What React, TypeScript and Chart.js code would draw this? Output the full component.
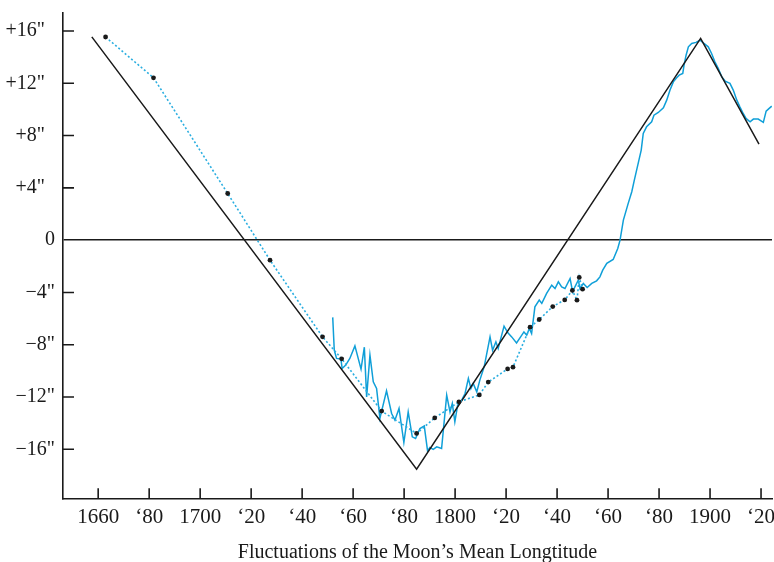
import React, { useEffect, useRef } from 'react';
import { Chart, registerables } from 'chart.js';

Chart.register(...registerables);

// Axis ticks
const xTickValues = [1660, 1680, 1700, 1720, 1740, 1760, 1780, 1800, 1820, 1840, 1860, 1880, 1900, 1920];
const xTickLabels = ['1660', '\u201880', '1700', '\u201820', '\u201840', '\u201860', '\u201880', '1800', '\u201820', '\u201840', '\u201860', '\u201880', '1900', '\u201820'];
const yTickValues = [16, 12, 8, 4, 0, -4, -8, -12, -16];
const yTickLabels = ['+16"\u2002', '+12"\u2002', '+8"\u2002', '+4"\u2002', '0', '\u22124"', '\u22128"', '\u221212"', '\u221216"'];

// Straight-line (V) trend
const trendYears = [1657.5, 1784.9, 1896.3, 1919.2];
const trendValues = [15.55, -17.52, 15.43, 7.35];

// Dotted series with black dots
const dotYears = [1662.9, 1681.7, 1710.8, 1727.4, 1748.0, 1755.5, 1771.2, 1784.9, 1792.0, 1801.5, 1809.5, 1813.0, 1820.6, 1822.7, 1829.4, 1833.0, 1838.3, 1843.0, 1846.0, 1847.8, 1848.7, 1850.0];
const dotValues = [15.54, 12.42, 3.57, -1.53, -7.40, -9.08, -13.08, -14.79, -13.6, -12.37, -11.84, -10.86, -9.85, -9.72, -6.66, -6.07, -5.08, -4.57, -3.85, -4.59, -2.85, -3.75];

// Solid blue series
const lineYears = [
  1752.0, 1752.6, 1753.5, 1755.2, 1755.7, 1757.1, 1758.7, 1760.7, 1763.1, 1764.4,
  1765.3, 1766.6, 1767.9, 1769.2, 1770.5, 1773.1, 1775.1, 1776.4, 1778.0, 1779.9,
  1781.6, 1783.2, 1784.5, 1786.2, 1787.9, 1789.2, 1790.1, 1791.4, 1792.8, 1794.7,
  1796.7, 1798.0, 1798.9, 1799.9, 1801.0, 1802.6, 1803.9, 1805.2, 1806.2, 1807.1,
  1808.5, 1809.7, 1811.4, 1813.7, 1814.7, 1816.0, 1816.9, 1819.2, 1820.7, 1822.2,
  1824.1, 1825.7, 1827.0, 1828.1, 1829.1, 1830.0, 1831.3, 1833.0, 1834.0, 1835.9,
  1837.9, 1839.2, 1840.5, 1841.8, 1843.1, 1845.1, 1846.1, 1847.0, 1848.3, 1849.0,
  1850.3, 1851.8, 1853.6, 1855.5, 1856.8, 1857.9, 1859.5, 1862.0, 1863.8, 1864.7,
  1866.0, 1867.9, 1869.3, 1870.3, 1871.2, 1872.1, 1873.0, 1873.8, 1875.1, 1877.1,
  1878.0, 1879.7, 1881.7, 1883.0, 1884.3, 1885.6, 1886.9, 1887.9, 1889.3, 1889.8,
  1890.6, 1891.5, 1892.8, 1894.5, 1896.1, 1897.6, 1899.3, 1900.6, 1901.9, 1903.2,
  1904.6, 1905.9, 1907.8, 1909.1, 1910.5, 1911.7, 1913.0, 1914.1, 1915.7, 1917.0,
  1918.9, 1920.9, 1922.0, 1923.2, 1924.2,
];
const lineValues = [
  -5.91, -8.42, -9.05, -9.10, -9.82, -9.56, -9.05, -8.09, -9.87, -8.19,
  -11.99, -8.80, -10.84, -11.35, -13.64, -11.53, -13.26, -13.77, -12.88, -15.48,
  -13.14, -15.05, -15.17, -14.41, -14.21, -16.12, -15.86, -16.01, -15.81, -15.94,
  -11.86, -13.14, -12.49, -13.90, -12.62, -12.24, -11.73, -10.58, -11.35, -10.96,
  -11.61, -10.71, -9.69, -7.40, -8.42, -7.78, -8.29, -6.58, -7.09, -7.40,
  -7.86, -7.40, -7.02, -7.27, -6.76, -7.14, -5.10, -4.59, -4.84, -4.08,
  -3.44, -3.70, -3.19, -3.57, -3.70, -2.93, -3.96, -3.57, -3.06, -3.70,
  -3.31, -3.62, -3.31, -3.11, -2.81, -2.30, -1.78, -1.48, -0.64, 0.0,
  1.53, 2.81, 3.70, 4.59, 5.36, 6.12, 6.89, 8.16, 8.67, 9.05,
  9.56, 9.77, 10.12, 10.71, 11.48, 12.11, 12.42, 12.62, 12.75, 13.39,
  14.15, 14.79, 15.05, 15.13, 15.30, 15.05, 14.79, 14.28, 13.64, 13.14,
  12.49, 12.17, 11.99, 11.48, 10.71, 10.20, 9.69, 9.31, 9.05, 9.26,
  9.26, 9.01, 9.87, 10.08, 10.25,
];

const xTitle = 'Fluctuations of the Moon\u2019s Mean Longtitude';

const INK = '#1a1a1a';
const BLUE = '#0f9fd8';
const BLUE_DOT = '#2aaee0';
const FONT = '"Liberation Serif", "Times New Roman", serif';

const toPoints = (xs: number[], ys: number[]) => xs.map((x, i) => ({ x, y: ys[i] }));

const inwardTicks = {
  id: 'inwardTicks',
  afterDatasetsDraw(chart: any) {
    const { ctx, chartArea, scales } = chart;
    ctx.save();
    ctx.strokeStyle = INK;
    ctx.lineWidth = 1.6;
    ctx.beginPath();
    xTickValues.forEach((v) => {
      const px = scales.x.getPixelForValue(v);
      ctx.moveTo(px, chartArea.bottom);
      ctx.lineTo(px, chartArea.bottom - 10);
    });
    yTickValues.forEach((v) => {
      if (v === 0) return;
      const py = scales.y.getPixelForValue(v);
      ctx.moveTo(chartArea.left, py);
      ctx.lineTo(chartArea.left + 11, py);
    });
    ctx.stroke();
    ctx.restore();
  },
};

export default function App() {
  const ref = useRef<HTMLCanvasElement>(null);

  useEffect(() => {
    if (!ref.current) return;
    const chart = new Chart(ref.current, {
      type: 'scatter',
      data: {
        datasets: [
          {
            label: 'dots',
            data: toPoints(dotYears, dotValues),
            showLine: true,
            borderColor: BLUE_DOT,
            borderWidth: 1.6,
            borderDash: [2, 2.2],
            pointRadius: 2.4,
            pointBackgroundColor: INK,
            pointBorderColor: INK,
            pointBorderWidth: 0,
            tension: 0,
            order: 0,
          },
          {
            label: 'trend',
            data: toPoints(trendYears, trendValues),
            showLine: true,
            borderColor: INK,
            borderWidth: 1.5,
            pointRadius: 0,
            tension: 0,
            order: 1,
          },
          {
            label: 'observed',
            data: toPoints(lineYears, lineValues),
            showLine: true,
            borderColor: BLUE,
            borderWidth: 1.5,
            pointRadius: 0,
            tension: 0,
            order: 2,
          },
        ],
      },
      options: {
        responsive: false,
        animation: false,
        events: [],
        layout: { autoPadding: false, padding: { top: 12.7, right: 2, left: 0, bottom: 0 } },
        plugins: { legend: { display: false }, tooltip: { enabled: false } },
        scales: {
          x: {
            type: 'linear',
            min: 1646.2,
            max: 1924.3,
            afterBuildTicks: (scale: any) => {
              scale.ticks = xTickValues.map((v) => ({ value: v }));
            },
            afterFit: (scale: any) => {
              scale.height = 562 - 498.3;
              scale.paddingLeft = 0;
              scale.paddingRight = 0;
            },
            ticks: {
              autoSkip: false,
              maxRotation: 0,
              padding: 7,
              color: INK,
              font: { family: FONT, size: 21 },
              callback: (value: any) => {
                const i = xTickValues.indexOf(Number(value));
                return i >= 0 ? xTickLabels[i] : '';
              },
            },
            grid: { display: true, drawOnChartArea: false, drawTicks: false, color: 'rgba(0,0,0,0)' },
            border: { display: true, color: INK, width: 1.6 },
            title: {
              display: true,
              text: xTitle,
              color: INK,
              font: { family: FONT, size: 20, lineHeight: 0.9 },
              padding: { top: 0, bottom: 0 },
            },
          },
          y: {
            type: 'linear',
            min: -19.75,
            max: 17.4,
            afterBuildTicks: (scale: any) => {
              scale.ticks = yTickValues.map((v) => ({ value: v }));
            },
            afterFit: (scale: any) => {
              scale.width = 63;
              scale.paddingTop = 0;
              scale.paddingBottom = 0;
            },
            ticks: {
              padding: 8,
              color: INK,
              font: { family: FONT, size: 20 },
              callback: (value: any) => {
                const i = yTickValues.indexOf(Number(value));
                return i >= 0 ? yTickLabels[i] : '';
              },
            },
            grid: {
              drawTicks: false,
              lineWidth: 1.4,
              color: (c: any) => (c.tick && c.tick.value === 0 ? INK : 'rgba(0,0,0,0)'),
            },
            border: { display: true, color: INK, width: 1.6 },
          },
        },
      },
      plugins: [inwardTicks],
    } as any);
    return () => chart.destroy();
  }, []);

  return (
    <div style={{ position: 'fixed', left: 0, top: 0, width: 774, height: 562, background: '#fff' }}>
      <canvas ref={ref} width={774} height={562} style={{ display: 'block' }} />
    </div>
  );
}
